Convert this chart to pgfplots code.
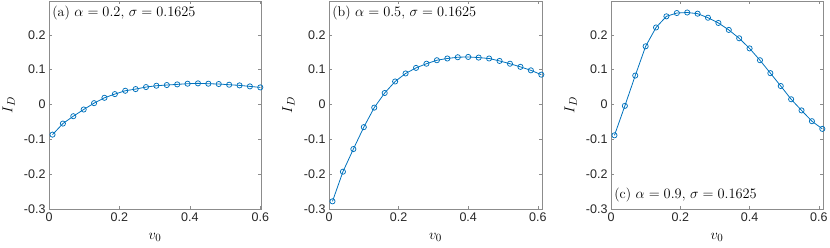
\documentclass[border=0pt]{standalone}
\usepackage{pgfplots}
\pgfplotsset{compat=1.18}
\usepackage{fontspec}
\newfontfamily\ticksf{Liberation Sans}
\definecolor{mblue}{rgb}{0,0.447,0.741}
\definecolor{axgray}{gray}{0.55}

\pgfplotstableread{
x y
0.01 -0.0865
0.0395 -0.0548
0.069 -0.0337
0.0985 -0.0144
0.128 0.0038
0.1575 0.0192
0.187 0.0298
0.2165 0.0394
0.246 0.0442
0.2755 0.0500
0.305 0.0538
0.3345 0.0558
0.364 0.0577
0.3935 0.0596
0.423 0.0606
0.4525 0.0596
0.482 0.0587
0.5115 0.0567
0.541 0.0548
0.5705 0.0519
0.6 0.0490
}\dataA

\pgfplotstableread{
x y
0.01 -0.278
0.04 -0.193
0.07 -0.128
0.10 -0.065
0.13 -0.009
0.16 0.033
0.19 0.066
0.22 0.089
0.25 0.105
0.28 0.117
0.31 0.127
0.34 0.132
0.37 0.1356
0.40 0.1365
0.43 0.1346
0.46 0.132
0.49 0.125
0.52 0.117
0.55 0.108
0.58 0.098
0.61 0.0856
}\dataB

\pgfplotstableread{
x y
0.01 -0.0885
0.04 -0.004
0.07 0.083
0.10 0.167
0.13 0.221
0.16 0.253
0.19 0.2625
0.22 0.264
0.25 0.2606
0.28 0.249
0.31 0.234
0.34 0.214
0.37 0.190
0.40 0.161
0.43 0.127
0.46 0.090
0.49 0.053
0.52 0.015
0.55 -0.017
0.58 -0.048
0.61 -0.070
}\dataC

\pgfplotsset{myax/.style={
  scale only axis, width=212pt, height=208pt,
  anchor=south west,
  xmin=0, ymin=-0.3, ymax=0.297,
  xtick={0,0.2,0.4,0.6}, xticklabels={0,0.2,0.4,0.6},
  ytick={-0.3,-0.2,-0.1,0,0.1,0.2},
  yticklabels={-0.3,-0.2,-0.1,0,0.1,0.2},
  xticklabel pos=lower, yticklabel pos=left,
  xtick pos=both, ytick pos=both,
  tick align=inside,
  major tick length=3pt,
  axis line style={axgray, line width=0.5pt},
  tick style={axgray, line width=0.5pt},
  tick label style={font=\ticksf\fontsize{12.5}{14}\selectfont, text=black!85},
  label style={font=\fontsize{15}{17}\selectfont},
  xlabel={$v_0$}, ylabel={$I_D$},
  xlabel style={at={(axis description cs:0.5,-0.135)}, anchor=center},
  ylabel style={at={(axis description cs:-0.19,0.5)}, anchor=center},
  clip=false,
}}
\tikzset{ser/.style={mblue, line width=0.8pt, mark=o, mark size=2.6pt, mark options={line width=0.75pt, solid}}}

\begin{document}
\begin{tikzpicture}
\useasboundingbox (0,0) rectangle (830pt,247pt);
\begin{axis}[myax, at={(49pt,38pt)}, xmax=0.602]
\addplot[ser] table {\dataA};
\node[anchor=north west, inner sep=0pt, font=\fontsize{14}{16}\selectfont] at (rel axis cs:0.015,0.975) {(a) $\alpha=0.2$, $\sigma=0.1625$};
\end{axis}
\begin{axis}[myax, at={(329pt,38pt)}, width=213pt, xmax=0.612]
\addplot[ser] table {\dataB};
\node[anchor=north west, inner sep=0pt, font=\fontsize{14}{16}\selectfont] at (rel axis cs:0.015,0.975) {(b) $\alpha=0.5$, $\sigma=0.1625$};
\end{axis}
\begin{axis}[myax, at={(611pt,38pt)}, xmax=0.612]
\addplot[ser] table {\dataC};
\node[anchor=south west, inner sep=0pt, font=\fontsize{14}{16}\selectfont] at (rel axis cs:0.015,0.035) {(c) $\alpha=0.9$, $\sigma=0.1625$};
\end{axis}
\end{tikzpicture}
\end{document}
